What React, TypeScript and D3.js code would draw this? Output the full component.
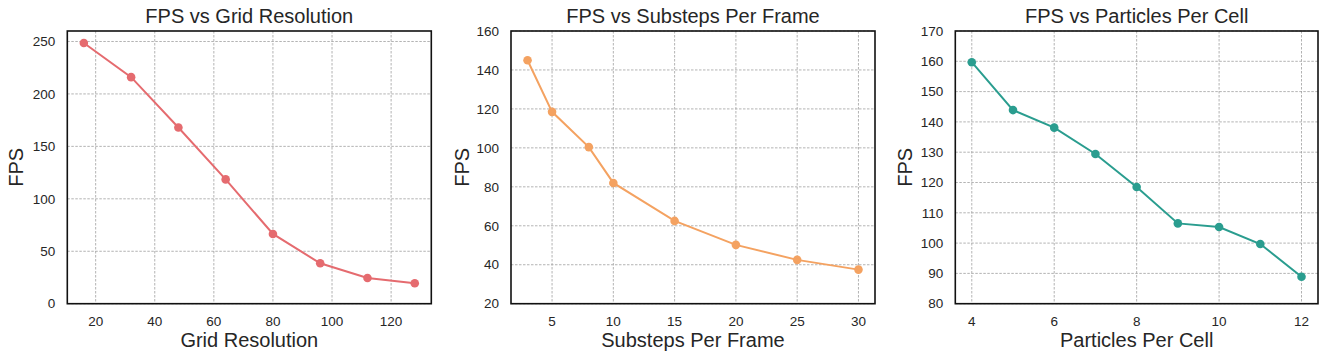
import React from "react";
import * as d3 from "d3";

const gridRes = [16, 32, 48, 64, 80, 96, 112, 128];
const gridFps = [248.5, 216, 168, 118.5, 66.5, 38.5, 24.5, 19.5];
const gridTicksX = [20, 40, 60, 80, 100, 120];
const gridTicksY = [0, 50, 100, 150, 200, 250];

const substeps = [3, 5, 8, 10, 15, 20, 25, 30];
const substepFps = [145, 118.5, 100.4, 82, 62.5, 50.2, 42.5, 37.5];
const subTicksX = [5, 10, 15, 20, 25, 30];
const subTicksY = [20, 40, 60, 80, 100, 120, 140, 160];

const ppc = [4, 5, 6, 7, 8, 9, 10, 11, 12];
const ppcFps = [159.7, 143.9, 138.1, 129.4, 118.5, 106.5, 105.3, 99.7, 88.9];
const ppcTicksX = [4, 6, 8, 10, 12];
const ppcTicksY = [80, 90, 100, 110, 120, 130, 140, 150, 160, 170];

const FONT = "Liberation Sans, Arial, sans-serif";

type PanelProps = {
  left: number;
  right: number;
  title: string;
  xLabel: string;
  xs: number[];
  ys: number[];
  xDomain: [number, number];
  yDomain: [number, number];
  xTicks: number[];
  yTicks: number[];
  color: string;
  yLabelX: number;
};

const TOP = 31;
const BOTTOM = 303.7;

function Panel(p: PanelProps) {
  const x = d3.scaleLinear().domain(p.xDomain).range([p.left, p.right]);
  const y = d3.scaleLinear().domain(p.yDomain).range([BOTTOM, TOP]);
  const pts = p.xs.map((v, i) => [v, p.ys[i]] as [number, number]);
  const line = d3
    .line<[number, number]>()
    .x((d) => x(d[0]))
    .y((d) => y(d[1]));
  const cx = (p.left + p.right) / 2;
  const cy = (TOP + BOTTOM) / 2;
  return (
    <g>
      {p.xTicks.map((t) => (
        <line
          key={"gx" + t}
          x1={x(t)}
          x2={x(t)}
          y1={TOP}
          y2={BOTTOM}
          stroke="#a0a0a0"
          strokeWidth={0.8}
          strokeDasharray="2.5,1.5"
        />
      ))}
      {p.yTicks.map((t) => (
        <line
          key={"gy" + t}
          x1={p.left}
          x2={p.right}
          y1={y(t)}
          y2={y(t)}
          stroke="#a0a0a0"
          strokeWidth={0.8}
          strokeDasharray="2.5,1.5"
        />
      ))}
      <path d={line(pts) || ""} fill="none" stroke={p.color} strokeWidth={2} />
      {pts.map((d, i) => (
        <circle key={i} cx={x(d[0])} cy={y(d[1])} r={4.3} fill={p.color} />
      ))}
      <rect
        x={p.left}
        y={TOP}
        width={p.right - p.left}
        height={BOTTOM - TOP}
        fill="none"
        stroke="#111"
        strokeWidth={1.6}
      />
      {p.xTicks.map((t) => (
        <text
          key={"tx" + t}
          x={x(t)}
          y={326}
          textAnchor="middle"
          fontSize={13.5}
          fill="#262626"
          fontFamily={FONT}
        >
          {t}
        </text>
      ))}
      {p.yTicks.map((t) => (
        <text
          key={"ty" + t}
          x={p.left - 12}
          y={y(t)}
          dy="0.35em"
          textAnchor="end"
          fontSize={13.5}
          fill="#262626"
          fontFamily={FONT}
        >
          {t}
        </text>
      ))}
      <text
        x={cx}
        y={23}
        textAnchor="middle"
        fontSize={20}
        fill="#262626"
        fontFamily={FONT}
      >
        {p.title}
      </text>
      <text
        x={cx}
        y={347}
        textAnchor="middle"
        fontSize={20}
        fill="#262626"
        fontFamily={FONT}
      >
        {p.xLabel}
      </text>
      <text
        transform={`translate(${p.yLabelX},${cy}) rotate(-90)`}
        textAnchor="middle"
        dy="0.35em"
        fontSize={20}
        fill="#262626"
        fontFamily={FONT}
      >
        FPS
      </text>
    </g>
  );
}

export default function App() {
  return (
    <svg
      width={1328}
      height={361}
      style={{ position: "absolute", left: 0, top: 0, background: "#fff" }}
    >
      <rect width={1328} height={361} fill="#fff" />
      <Panel
        left={67.3}
        right={431.3}
        title="FPS vs Grid Resolution"
        xLabel="Grid Resolution"
        xs={gridRes}
        ys={gridFps}
        xDomain={[10.4, 133.6]}
        yDomain={[0, 260]}
        xTicks={gridTicksX}
        yTicks={gridTicksY}
        color="#e56b6f"
        yLabelX={16}
      />
      <Panel
        left={511}
        right={875}
        title="FPS vs Substeps Per Frame"
        xLabel="Substeps Per Frame"
        xs={substeps}
        ys={substepFps}
        xDomain={[1.65, 31.35]}
        yDomain={[20, 160]}
        xTicks={subTicksX}
        yTicks={subTicksY}
        color="#f4a261"
        yLabelX={462}
      />
      <Panel
        left={955.3}
        right={1318}
        title="FPS vs Particles Per Cell"
        xLabel="Particles Per Cell"
        xs={ppc}
        ys={ppcFps}
        xDomain={[3.6, 12.4]}
        yDomain={[80, 170]}
        xTicks={ppcTicksX}
        yTicks={ppcTicksY}
        color="#2a9d8f"
        yLabelX={905}
      />
    </svg>
  );
}
